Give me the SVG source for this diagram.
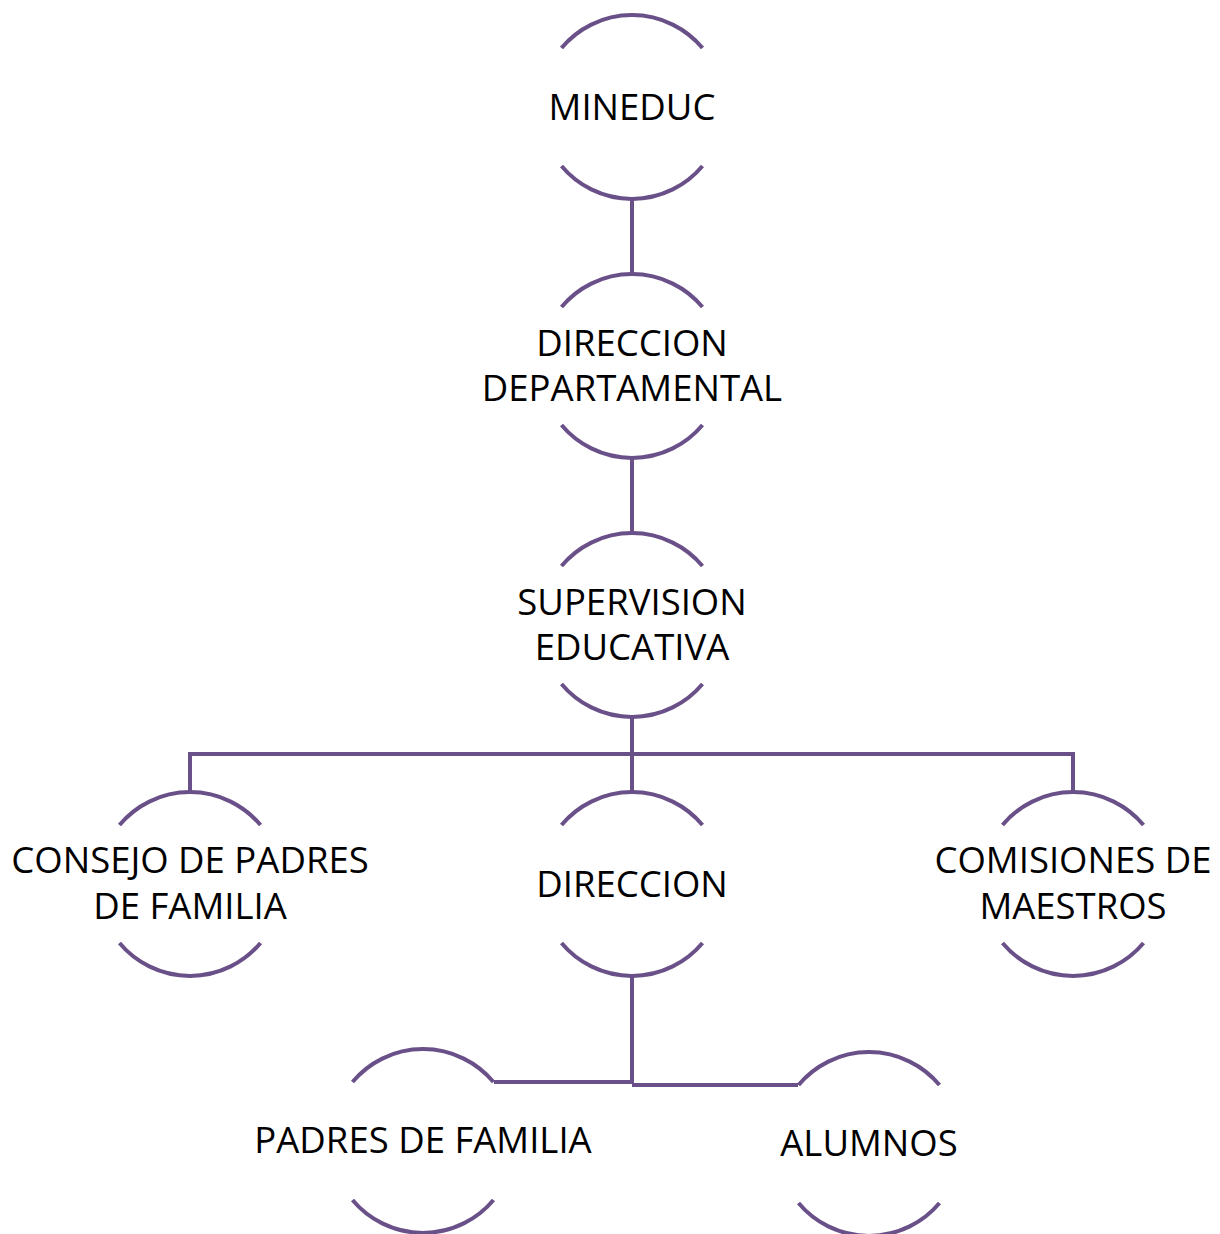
<svg xmlns="http://www.w3.org/2000/svg" width="1220" height="1234" viewBox="0 0 1220 1234">
<style>
.arc{fill:none;stroke:#6a5088;stroke-width:4}
.con{fill:none;stroke:#6a5088;stroke-width:4}
.t{font-family:"Open Sans","Noto Sans","Liberation Sans",sans-serif;font-size:36.5px;fill:#000;text-anchor:middle}
</style>
<rect width="1220" height="1234" fill="#fff"/>
<g id="connectors">
<path class="con" d="M632 199V274"/>
<path class="con" d="M632 458V533"/>
<path class="con" d="M632 717V792M190 792V754H1073V792"/>
<path class="con" d="M632 976V1084M494 1082H632M632 1085H798"/>
</g>
<g id="mineduc">
<path class="arc" d="M561.5 48A92 92 0 0 1 702.5 48M561.5 166A92 92 0 0 0 702.5 166"/>
<text class="t" x="632" y="120">MINEDUC</text>
</g>
<g id="direccion-departamental">
<path class="arc" d="M561.5 307A92 92 0 0 1 702.5 307M561.5 425A92 92 0 0 0 702.5 425"/>
<text class="t" x="632" y="356">DIRECCION</text>
<text class="t" x="632" y="401">DEPARTAMENTAL</text>
</g>
<g id="supervision-educativa">
<path class="arc" d="M561.5 566A92 92 0 0 1 702.5 566M561.5 684A92 92 0 0 0 702.5 684"/>
<text class="t" x="632" y="615">SUPERVISION</text>
<text class="t" x="632" y="660">EDUCATIVA</text>
</g>
<g id="consejo">
<path class="arc" d="M119.5 825A92 92 0 0 1 260.5 825M119.5 943A92 92 0 0 0 260.5 943"/>
<text class="t" x="190" y="873">CONSEJO DE PADRES</text>
<text class="t" x="190" y="919">DE FAMILIA</text>
</g>
<g id="direccion">
<path class="arc" d="M561.5 825A92 92 0 0 1 702.5 825M561.5 943A92 92 0 0 0 702.5 943"/>
<text class="t" x="632" y="897">DIRECCION</text>
</g>
<g id="comisiones">
<path class="arc" d="M1002.5 825A92 92 0 0 1 1143.5 825M1002.5 943A92 92 0 0 0 1143.5 943"/>
<text class="t" x="1073" y="873">COMISIONES DE</text>
<text class="t" x="1073" y="919">MAESTROS</text>
</g>
<g id="padres">
<path class="arc" d="M352.5 1082A92 92 0 0 1 493.5 1082M352.5 1200A92 92 0 0 0 493.5 1200"/>
<text class="t" x="423" y="1153">PADRES DE FAMILIA</text>
</g>
<g id="alumnos">
<path class="arc" d="M798.5 1085A92 92 0 0 1 939.5 1085M798.5 1203A92 92 0 0 0 939.5 1203"/>
<text class="t" x="869" y="1156">ALUMNOS</text>
</g>
</svg>
